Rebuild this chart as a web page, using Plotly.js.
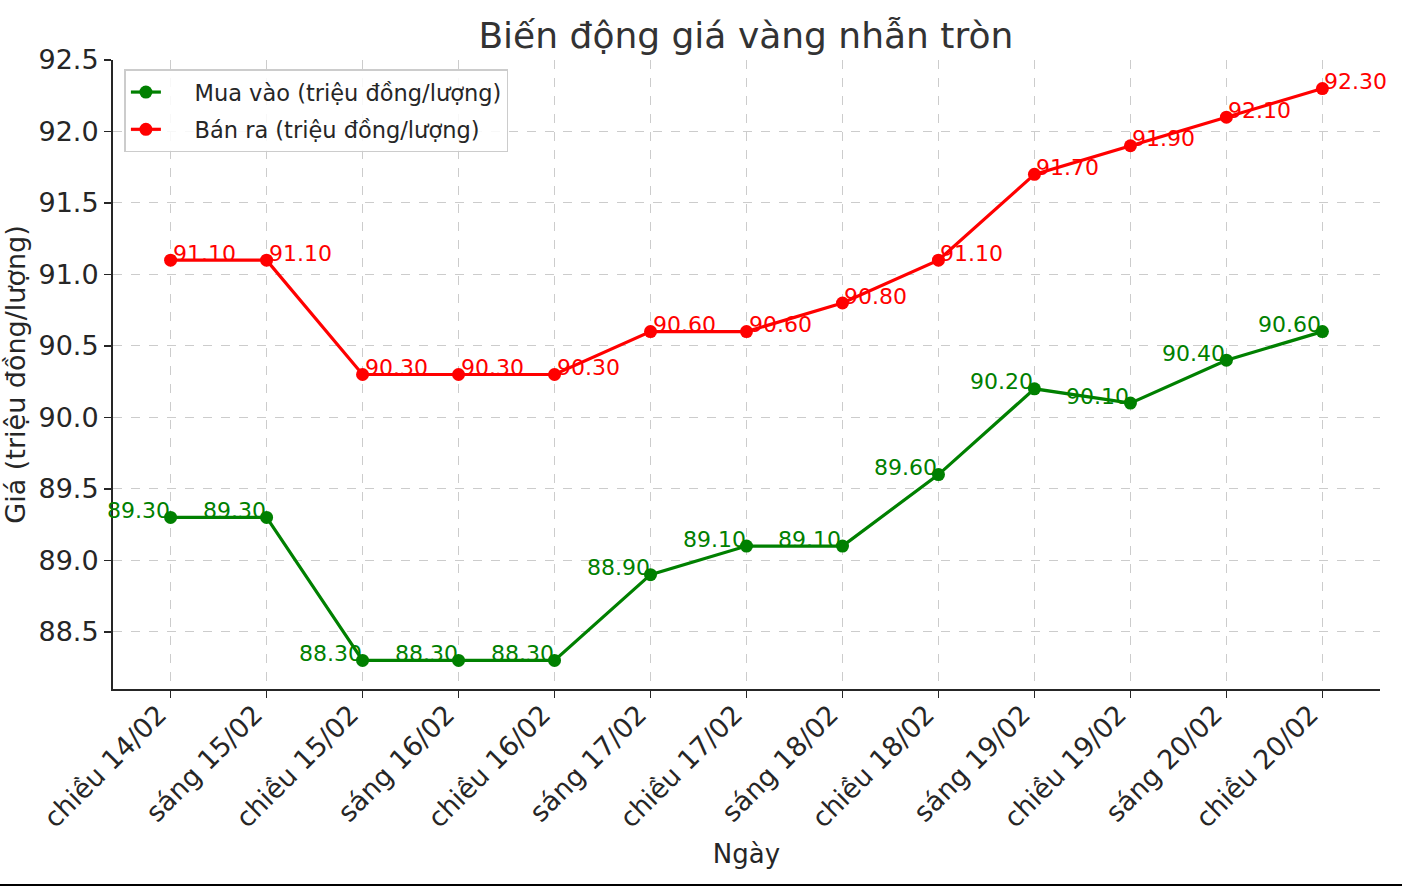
<!DOCTYPE html>
<html>
<head>
<meta charset="utf-8">
<script src="https://cdn.plot.ly/plotly-3.0.1.min.js"></script>
<style>html,body{margin:0;padding:0;background:#fff;}#chart{width:1402px;height:887px;}</style>
</head>
<body>
<div id="chart"></div>
<script>
const categories = ["chiều 14/02","sáng 15/02","chiều 15/02","sáng 16/02","chiều 16/02","sáng 17/02","chiều 17/02","sáng 18/02","chiều 18/02","sáng 19/02","chiều 19/02","sáng 20/02","chiều 20/02"];
const buyPrices = [89.3, 89.3, 88.3, 88.3, 88.3, 88.9, 89.1, 89.1, 89.6, 90.2, 90.1, 90.4, 90.6];
const sellPrices = [91.1, 91.1, 90.3, 90.3, 90.3, 90.6, 90.6, 90.8, 91.1, 91.7, 91.9, 92.1, 92.3];
const buyName = "Mua vào (triệu đồng/lượng)";
const sellName = "Bán ra (triệu đồng/lượng)";
const yTicks = [88.5, 89.0, 89.5, 90.0, 90.5, 91.0, 91.5, 92.0, 92.5];

const FONT = "DejaVu Sans, sans-serif";
const TXT = "#262626";
const GREEN = "#008000";
const RED = "#ff0000";
const PAD = "\u00a0\u00a0\u00a0\u00a0";

const traces = [
  {x: categories, y: buyPrices, name: PAD + buyName, legendgroup: "buy", type: "scatter", mode: "lines+markers",
   line: {color: GREEN, width: 3.2}, marker: {color: GREEN, size: 13}, cliponaxis: false},
  {x: categories, y: sellPrices, name: PAD + sellName, legendgroup: "sell", type: "scatter", mode: "lines+markers",
   line: {color: RED, width: 3.2}, marker: {color: RED, size: 13}, cliponaxis: false}
];

const annotations = [];
categories.forEach((c, i) => {
  annotations.push({x: c, y: buyPrices[i], xref: "x", yref: "y", text: buyPrices[i].toFixed(2),
    showarrow: false, xanchor: "right", yanchor: "middle", yshift: 7, xshift: 0, borderpad: 0,
    font: {family: FONT, size: 22, color: GREEN}});
  annotations.push({x: c, y: sellPrices[i], xref: "x", yref: "y", text: sellPrices[i].toFixed(2),
    showarrow: false, xanchor: "left", yanchor: "middle", yshift: 7, xshift: 1, borderpad: 0,
    font: {family: FONT, size: 22, color: RED}});
});

const layout = {
  width: 1402, height: 887,
  margin: {l: 113, r: 22, t: 60, b: 198},
  paper_bgcolor: "#ffffff", plot_bgcolor: "#ffffff",
  font: {family: FONT, color: TXT},
  title: {text: "Biến động giá vàng nhẫn tròn", font: {family: FONT, size: 36, color: "#333333"},
          x: 0.532, xanchor: "center", y: 0.96, yanchor: "middle"},
  xaxis: {
    type: "category", range: [-0.6, 12.6],
    title: {text: "Ngày", font: {family: FONT, size: 26, color: TXT}, standoff: 12},
    tickangle: -45, tickfont: {family: FONT, size: 27, color: TXT},
    ticklabelshift: -12, ticklabelstandoff: -10,
    ticks: "outside", ticklen: 7, tickwidth: 1.5, tickcolor: TXT,
    showline: true, linecolor: TXT, linewidth: 2, mirror: false,
    showgrid: true, gridcolor: "#cccccc", griddash: "dash", gridwidth: 1,
    zeroline: false, fixedrange: true
  },
  yaxis: {
    range: [88.1, 92.5],
    tickvals: yTicks, ticktext: yTicks.map(v => v.toFixed(1)),
    title: {text: "Giá (triệu đồng/lượng)", font: {family: FONT, size: 27, color: TXT}, standoff: 12},
    tickfont: {family: FONT, size: 27, color: TXT},
    ticks: "outside", ticklen: 7, tickwidth: 1.5, tickcolor: TXT,
    showline: true, linecolor: TXT, linewidth: 2, mirror: false,
    showgrid: true, gridcolor: "#cccccc", griddash: "dash", gridwidth: 1,
    zeroline: false, fixedrange: true
  },
  legend: {
    x: 0.009, y: 0.985, xanchor: "left", yanchor: "top",
    bgcolor: "rgba(255,255,255,0.85)", bordercolor: "#cccccc", borderwidth: 1.5,
    font: {family: FONT, size: 22.5, color: TXT}, tracegroupgap: 5
  },
  showlegend: true,
  annotations: annotations,
  shapes: [{type: "line", xref: "paper", yref: "paper", x0: -113/1267, x1: 1 + 22/1267,
            y0: -(885 - 689)/629, y1: -(885 - 689)/629, line: {color: "#000000", width: 2}}]
};

Plotly.newPlot("chart", traces, layout, {displayModeBar: false, staticPlot: true});
</script>
</body>
</html>
